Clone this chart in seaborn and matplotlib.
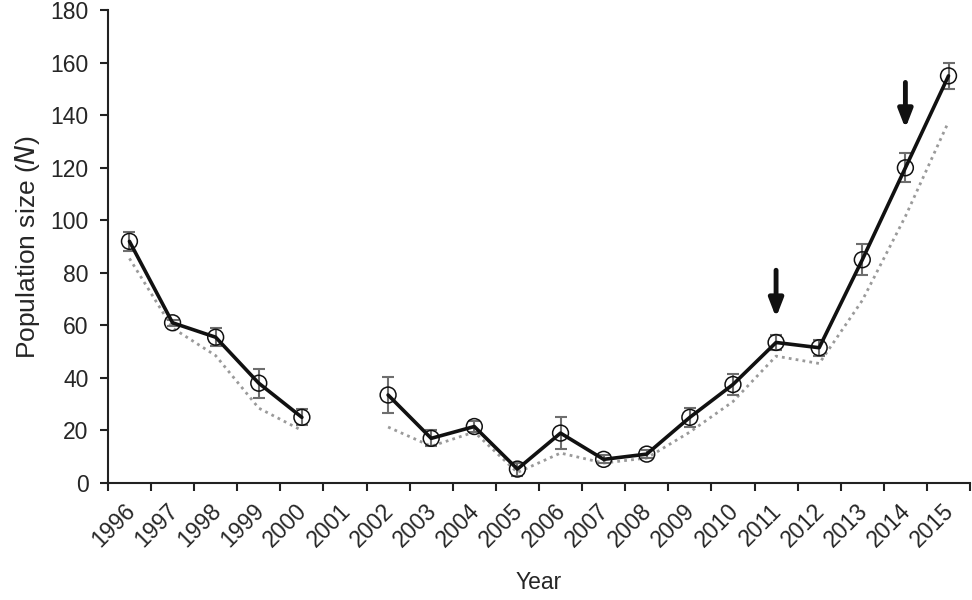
import numpy as np
import pandas as pd
import matplotlib
matplotlib.use('Agg')
import matplotlib.pyplot as plt
import matplotlib.transforms as mtransforms
import seaborn as sns

# Data (2001 has no estimate)
years = list(range(1996, 2016))
pop_size = [92, 61, 55.5, 38, 25, np.nan, 33.5, 17, 21.5, 5.3, 19, 9, 11,
            25, 37.5, 53.5, 51.5, 85, 120, 155]
pop_err = [3.5, 1.2, 3.5, 5.5, 3, np.nan, 7, 3, 2, 2.5, 6, 1.5, 1.5,
           3.5, 4, 3, 3, 6, 5.5, 5]
dotted = [85.5, 59, 48.5, 28.5, 20, np.nan, 21.3, 14, 19.4, 4, 11.4, 7.6, 9.5,
          19.4, 31, 48.3, 45.5, 69.5, 101.5, 137.5]

# arrows marking two years (tail / tip in data units)
arrow_years = [2011, 2014]
arrow_tail = [81, 152.5]
arrow_tip = [63, 135]

df = pd.DataFrame({'year': years, 'N': pop_size, 'err': pop_err, 'dotted': dotted})
df['pos'] = np.arange(len(df))
df['segment'] = np.where(df['year'] < 2001, 0, 1)
df = df.dropna()

sns.set_theme(style='white')
plt.rcParams['font.family'] = ['Liberation Sans', 'DejaVu Sans']

fig, ax = plt.subplots(figsize=(9.72, 6), dpi=100)
fig.subplots_adjust(left=0.111, right=0.998, top=0.983, bottom=0.195)

# dotted comparison line
sns.lineplot(data=df, x='pos', y='dotted', units='segment', estimator=None,
             color='#9a9a9a', linestyle=(0, (1, 1.5)), linewidth=2, ax=ax, zorder=2)

# error bars
ax.errorbar(df['pos'], df['N'], yerr=df['err'], fmt='none', ecolor='#6e6e6e',
            elinewidth=1.5, capsize=4, capthick=1.5, zorder=3)

# main line with open circles
sns.lineplot(data=df, x='pos', y='N', units='segment', estimator=None,
             color='#111111', linewidth=2.6, ax=ax, zorder=4)
sns.scatterplot(data=df, x='pos', y='N', marker='o', s=130, facecolors='none',
                edgecolor='#111111', linewidth=1.1, ax=ax, zorder=5)

# arrows
for yr, tail, tip in zip(arrow_years, arrow_tail, arrow_tip):
    i = years.index(yr)
    ax.annotate('', xy=(i, tip), xytext=(i, tail),
                arrowprops=dict(arrowstyle='-|>,head_width=0.35,head_length=0.9',
                                color='#111111', lw=3.5, shrinkA=0, shrinkB=0))

ax.set_xlim(-0.5, len(years) - 0.5)
ax.set_ylim(0, 180)
ax.set_yticks(range(0, 181, 20))
ax.set_xticks(range(len(years)))
ax.set_xticklabels([str(y) for y in years], rotation=45, ha='right', va='top')
ax.set_xticks(np.arange(-0.5, len(years) + 0.5, 1), minor=True)
ax.tick_params(axis='x', which='major', length=0, labelsize=16.5, pad=12)
ax.tick_params(axis='x', which='minor', length=6, width=1.5, color='#222222',
               direction='out', bottom=True)
ax.tick_params(axis='y', length=6, width=1.5, color='#222222', direction='out',
               left=True, labelsize=16.5, pad=8)

offset = mtransforms.ScaledTranslation(10 / 100, 0, fig.dpi_scale_trans)
for lab in ax.get_xticklabels():
    lab.set_transform(lab.get_transform() + offset)

for side in ['top', 'right']:
    ax.spines[side].set_visible(False)
for side in ['left', 'bottom']:
    ax.spines[side].set_color('#222222')
    ax.spines[side].set_linewidth(1.5)

ax.set_xlabel('Year', fontsize=16.5, labelpad=14)
ax.set_ylabel('Population size ($\\it{N}$)', fontsize=19, labelpad=6)

fig.savefig('out.png', dpi=100, facecolor='white')
